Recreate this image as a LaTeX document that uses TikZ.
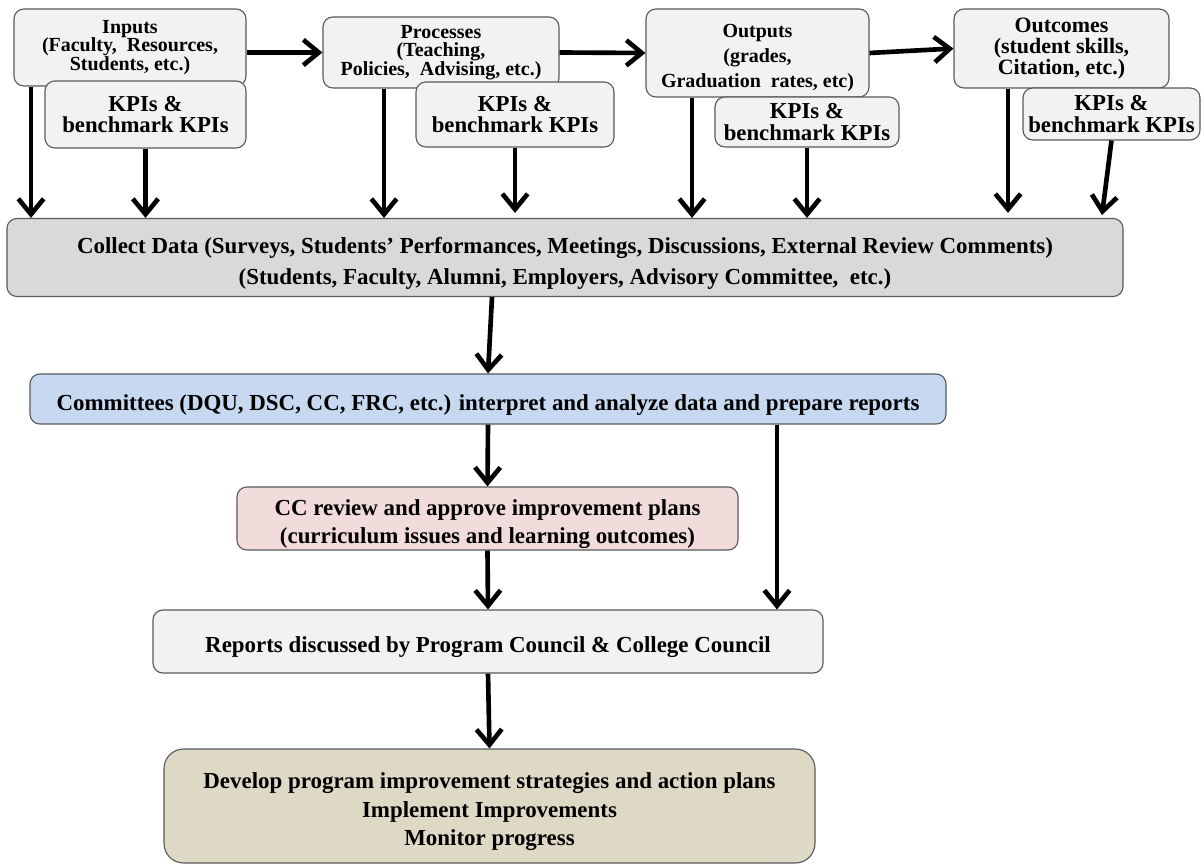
\documentclass[tikz,border=0pt]{standalone}
\usepackage{fontspec}
\setmainfont{Liberation Serif}
\usetikzlibrary{arrows.meta}

\newlength{\dpx}
\setlength{\dpx}{0.025cm}
\newcommand{\topfont}{\bfseries\fontsize{14.2}{13.2}\selectfont\lineskiplimit=-20pt}
\newcommand{\outfont}{\bfseries\fontsize{14.2}{17.8}\selectfont\lineskiplimit=-20pt}
\newcommand{\kpifont}{\bfseries\fontsize{16.2}{15.2}\selectfont\lineskiplimit=-20pt}
\newcommand{\outcfont}{\bfseries\fontsize{15.6}{14.8}\selectfont\lineskiplimit=-20pt}
\newcommand{\bigfont}{\bfseries\fontsize{16.3}{20.3}\selectfont\lineskiplimit=-20pt}
\newcommand{\topstrut}{\rule{0pt}{1.2em}}

\definecolor{boxgray}{HTML}{F2F2F2}
\definecolor{colgray}{HTML}{D9D9D9}
\definecolor{comblue}{HTML}{C6D9F1}
\definecolor{ccpink}{HTML}{F2DCDB}
\definecolor{devtan}{HTML}{DDD9C4}

\begin{document}
\begin{tikzpicture}[x=0.025cm, y=-0.025cm,
    box/.style={draw=black!65, line width=0.8pt, rounded corners=7pt, fill=boxgray,
        align=center, inner sep=0pt},
    arr/.style={-{Straight Barb[length=11pt,width=18pt]}, line width=3.3pt}]
    \useasboundingbox (0,0) rectangle (1202,865);

    \node[box, minimum width=232\dpx, minimum height=77\dpx, font=\topfont] (inp) at (130,47.5)
        {Inputs\\(Faculty,~~Resources,\\Students, etc.)};
    \node[box, minimum width=201\dpx, minimum height=67\dpx, font=\kpifont] (kpi1) at (145.5,114.5)
        {KPIs \&\\benchmark KPIs};

    \node[box, minimum width=236\dpx, minimum height=71\dpx, font=\topfont] (proc) at (441,52.5)
        {Processes\\(Teaching,\\Policies,~~Advising, etc.)};
    \node[box, minimum width=198\dpx, minimum height=65\dpx, font=\kpifont] (kpi2) at (515,114.5)
        {KPIs \&\\benchmark KPIs};

    \node[box, minimum width=223\dpx, minimum height=88\dpx, font=\outfont] (outp) at (757.5,53)
        {\topstrut Outputs\\(grades,\\Graduation~~rates, etc)};
    \node[box, minimum width=184\dpx, minimum height=50\dpx, font=\kpifont] (kpi3) at (807,122)
        {KPIs \&\\benchmark KPIs};

    \node[box, minimum width=215\dpx, minimum height=79\dpx, font=\outcfont] (outc) at (1061.5,48.5)
        {Outcomes\\(student skills,\\Citation, etc.)};
    \node[box, minimum width=177\dpx, minimum height=52\dpx, font=\kpifont] (kpi4) at (1111.5,114)
        {KPIs \&\\benchmark KPIs};

    \node[box, fill=colgray, minimum width=1116\dpx, minimum height=78\dpx,
        font=\bfseries\fontsize{16.3}{22}\selectfont] (col) at (565,257.5)
        {\topstrut Collect Data (Surveys, Students’ Performances, Meetings, Discussions, External Review Comments)\\
        (Students, Faculty, Alumni, Employers, Advisory Committee,~~etc.)};

    \node[box, fill=comblue, minimum width=916\dpx, minimum height=50\dpx, font=\bigfont] (com) at (488,399)
        {\topstrut Committees (DQU, DSC, CC, FRC, etc.) interpret and analyze data and prepare reports};

    \node[box, fill=ccpink, minimum width=501\dpx, minimum height=63\dpx, font=\bigfont] (cc) at (487.5,518.5)
        {\topstrut CC review and approve improvement plans\\(curriculum issues and learning outcomes)};

    \node[box, minimum width=670\dpx, minimum height=63\dpx, font=\bigfont] (rep) at (488,641.5)
        {\topstrut Reports discussed by Program Council \& College Council};

    \node[box, fill=devtan, rounded corners=14pt, minimum width=651\dpx, minimum height=114\dpx,
        font=\bigfont] (dev) at (489.5,806)
        {\topstrut Develop program improvement strategies and action plans\\Implement Improvements\\Monitor progress};

    \coordinate (a1) at (31,0);
    \coordinate (a3) at (384,0);
    \coordinate (a5) at (692,0);
    \coordinate (a7) at (1008,0);
    \coordinate (k4end) at (1102,215);
    \coordinate (c1) at (492,0);
    \coordinate (r1) at (777,0);

    \draw[arr] (inp.east |- proc.west) -- (proc.west);
    \draw[arr] (proc.east) -- (outp.west);
    \draw[arr] (outp.east) -- (outc.west);

    \draw[arr] (inp.south -| a1) -- (col.north -| a1);
    \draw[arr] (kpi1.south) -- (col.north -| kpi1.south);
    \draw[arr] (proc.south -| a3) -- (col.north -| a3);
    \draw[arr, shorten >=5\dpx] (kpi2.south) -- (col.north -| kpi2.south);
    \draw[arr] (outp.south -| a5) -- (col.north -| a5);
    \draw[arr] (kpi3.south) -- (col.north -| kpi3.south);
    \draw[arr, shorten >=5\dpx] (outc.south -| a7) -- (col.north -| a7);
    \draw[arr] (kpi4.south) -- (k4end);

    \draw[arr] (col.south -| c1) -- (com.north);
    \draw[arr] (com.south) -- (cc.north);
    \draw[arr] (cc.south) -- (rep.north);
    \draw[arr] (com.south -| r1) -- (rep.north -| r1);
    \draw[arr] (rep.south) -- (dev.north);

\end{tikzpicture}
\end{document}
